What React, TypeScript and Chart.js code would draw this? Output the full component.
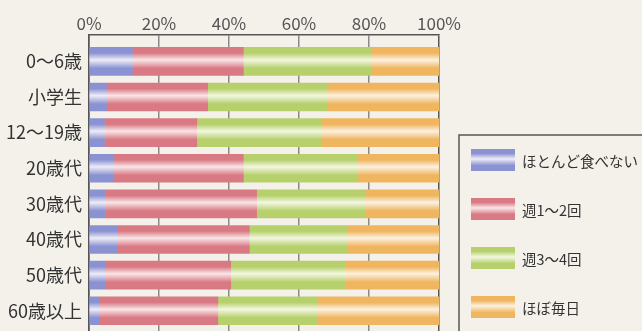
import { useEffect, useRef } from 'react';
import { Chart, registerables } from 'chart.js';
Chart.register(...registerables);

const categories = ['0〜6歳', '小学生', '12〜19歳', '20歳代', '30歳代', '40歳代', '50歳代', '60歳以上'];
const seriesNames = ['ほとんど食べない', '週1〜2回', '週3〜4回', 'ほぼ毎日'];
const hardlyEver = [12.4, 5.0, 4.4, 7.1, 4.7, 8.1, 4.6, 2.9];
const onceTwiceWeek = [31.7, 28.9, 26.4, 37.0, 43.2, 37.7, 35.9, 33.9];
const threeFourWeek = [36.4, 34.0, 35.5, 32.7, 31.0, 28.1, 32.8, 28.4];
const almostDaily = [19.5, 32.1, 33.7, 23.2, 21.1, 26.1, 26.7, 34.8];
const xTickValues = [0, 20, 40, 60, 80, 100];

const baseColors = ['#8b92d2', '#d97983', '#b6d06c', '#efb55f'];
const lightColors = ['#eeecf7', '#f9e6e7', '#f3f7e1', '#fcf1e1'];

const FONT = '"Noto Sans CJK JP", "Noto Sans", sans-serif';
const BAR_H = 28;

function makeGradient(ctx: CanvasRenderingContext2D, top: number, h: number, i: number) {
  const g = ctx.createLinearGradient(0, top, 0, top + h);
  g.addColorStop(0, baseColors[i]);
  g.addColorStop(0.2, baseColors[i]);
  g.addColorStop(0.45, lightColors[i]);
  g.addColorStop(0.75, baseColors[i]);
  g.addColorStop(1, baseColors[i]);
  return g;
}

const frameLegend = {
  id: 'frameLegend',
  afterDraw(chart: any) {
    const { ctx, chartArea } = chart;
    const left = chartArea.right + 20;
    const top = chartArea.top + 100;
    ctx.save();
    ctx.strokeStyle = '#555';
    ctx.lineWidth = 1.5;
    ctx.strokeRect(left, top, chart.width - left + 20, chart.height - top + 20);
    chart.data.datasets.forEach((ds: any, i: number) => {
      const sx = left + 12;
      const sy = top + 14 + i * 49;
      const sw = 44;
      const sh = 22;
      ctx.fillStyle = makeGradient(ctx, sy, sh, i);
      ctx.fillRect(sx, sy, sw, sh);
      ctx.fillStyle = '#333';
      ctx.font = '14.5px ' + FONT;
      ctx.textBaseline = 'middle';
      ctx.textAlign = 'left';
      ctx.fillText(ds.label, sx + sw + 7, sy + sh / 2 + 1);
    });
    ctx.restore();
  },
};

export default function App() {
  const ref = useRef<HTMLCanvasElement>(null);
  useEffect(() => {
    if (!ref.current) return;
    const values = [hardlyEver, onceTwiceWeek, threeFourWeek, almostDaily];
    const chart = new Chart(ref.current, {
      type: 'bar',
      data: {
        labels: categories.map((_, i) => i),
        datasets: values.map((arr, i) => ({
          label: seriesNames[i],
          data: arr,
          barThickness: BAR_H,
          borderWidth: 0,
          backgroundColor: (c: any) => {
            const ch = c.chart;
            const ys = ch.scales && ch.scales.y;
            if (!ys || c.dataIndex == null) return baseColors[i];
            const py = ys.getPixelForValue(c.dataIndex);
            if (!isFinite(py)) return baseColors[i];
            return makeGradient(ch.ctx, py - BAR_H / 2, BAR_H, i);
          },
        })),
      },
      options: {
        indexAxis: 'y',
        animation: false,
        responsive: false,
        layout: { padding: { left: 0, right: 203, top: 0, bottom: 0 } },
        plugins: { legend: { display: false }, tooltip: { enabled: false } },
        scales: {
          x: {
            type: 'linear',
            position: 'top',
            stacked: true,
            min: 0,
            max: 100,
            afterBuildTicks: (scale: any) => {
              scale.ticks = xTickValues.map((v) => ({ value: v }));
            },
            afterFit: (scale: any) => {
              scale.height = 35;
            },
            ticks: {
              callback: (v: any) => v + '%',
              color: '#555',
              font: { family: FONT, size: 17 },
              padding: 1,
            },
            grid: {
              color: (c: any) => (c.tick && (c.tick.value === 0 || c.tick.value === 100) ? '#555' : '#8a8a8a'),
              lineWidth: 1.5,
              tickLength: 0,
            },
            border: { display: true, color: '#555', width: 1.5 },
          },
          y: {
            type: 'linear',
            reverse: true,
            stacked: true,
            offset: false,
            min: -0.74,
            max: 8.05,
            afterBuildTicks: (scale: any) => {
              scale.ticks = categories.map((_, i) => ({ value: i }));
            },
            afterFit: (scale: any) => {
              scale.width = 89;
            },
            ticks: {
              autoSkip: false,
              callback: (v: any) => categories[v] ?? '',
              color: '#333',
              font: { family: FONT, size: 18 },
              padding: 7,
            },
            grid: { display: false, drawTicks: false, offset: false },
            border: { display: true, color: '#555', width: 1.5 },
          },
        },
      },
      plugins: [frameLegend],
    } as any);
    return () => chart.destroy();
  }, []);
  return (
    <div style={{ position: 'fixed', left: 0, top: 0, width: 642, height: 331, overflow: 'hidden', background: '#f4f1ea' }}>
      <canvas ref={ref} width={642} height={366} style={{ display: 'block' }} />
    </div>
  );
}
